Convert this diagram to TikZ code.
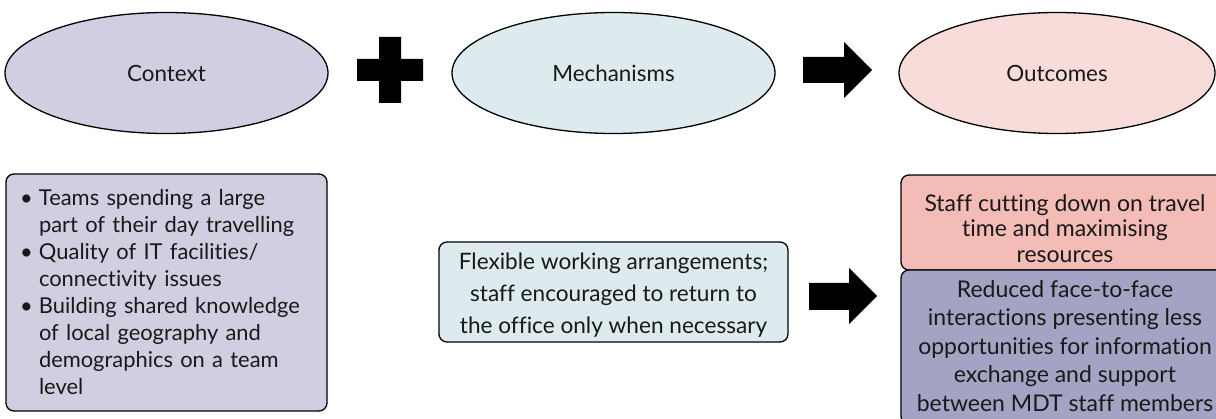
\documentclass[tikz,border=0pt]{standalone}
\usepackage{fontspec}
\setmainfont[Ligatures=NoCommon]{Lato}
\usetikzlibrary{shapes.geometric}
\definecolor{lav}{HTML}{D0CFE2}
\definecolor{mint}{HTML}{DDEBEE}
\definecolor{rose}{HTML}{F8DCDA}
\definecolor{salmon}{HTML}{F3BCB6}
\definecolor{slate}{HTML}{A3A3C3}
\newcommand{\bul}{\makebox[19pt][l]{\textbullet}}
\newcommand{\ind}{\hspace*{19pt}}
\begin{document}
\begin{tikzpicture}[x=1pt,y=-1pt,
  every node/.style={font=\fontsize{21.5}{27}\selectfont, text=black!90},
  oval/.style={ellipse, draw=black, line width=1.3pt, minimum width=323, minimum height=121, inner sep=0pt,
               font=\fontsize{22.4}{27}\selectfont},
  card/.style={rectangle, rounded corners=8pt, draw=black, line width=1.3pt, inner sep=0pt},
  label/.style={inner sep=0pt, align=center},
  blockshape/.style={fill=black}
]
\useasboundingbox (0,0) rectangle (1216,419);
\clip (0,0) rectangle (1216,419);

% ellipses
\node[oval, fill=lav]  (ctx)  at (166.5,73) {Context};
\node[oval, fill=mint] (mech) at (613.5,73) {Mechanisms};
\node[oval, fill=rose, minimum width=316] (out) at (1057,73) {Outcomes};

% plus sign
\fill[blockshape] (379,37) -- (401,37) -- (401,59) -- (423,59) -- (423,81) -- (401,81)
  -- (401,103) -- (379,103) -- (379,81) -- (357,81) -- (357,59) -- (379,59) -- cycle;

% top block arrow
\fill[blockshape] (803,57) -- (844,57) -- (844,42) -- (872,70) -- (844,98) -- (844,83) -- (803,83) -- cycle;

% context box
\node[card, fill=lav, minimum width=321, minimum height=237, text width=293, inner xsep=14pt, align=left,
      font=\fontsize{21.9}{27}\selectfont]
  (ctxbox) at (166.5,292.5) {%
  \bul Teams spending a large\\
  \ind part of their day travelling\\
  \bul Quality of IT facilities/\\
  \ind connectivity issues\\
  \bul Building shared knowledge\\
  \ind of local geography and\\
  \ind demographics on a team\\
  \ind level};

% mechanism box
\node[card, fill=mint, minimum width=349, minimum height=100] (mechbox) at (613.5,292) {};
\node[label, font=\fontsize{22.6}{32}\selectfont] (mechtext) at (613.5,295)
  {Flexible working arrangements;\\staff encouraged to return to\\the office only when necessary};

% bottom block arrow
\fill[blockshape] (809,283) -- (849,283) -- (849,268) -- (877,296) -- (849,324) -- (849,310) -- (809,310) -- cycle;

% outcome boxes
\node[card, fill=salmon, minimum width=328, minimum height=95] (outa) at (1065,222.5) {};
\node[label, font=\fontsize{23}{25.2}\selectfont] (outatext) at (1065,228.5)
  {Staff cutting down on travel\\time and maximising\\resources};
\node[card, fill=slate, minimum width=328, minimum height=154] (outb) at (1065,347) {};
\node[label, font=\fontsize{23}{28.6}\selectfont] (outbtext) at (1065,346)
  {Reduced face-to-face\\interactions presenting less\\opportunities for information\\exchange and support\\between MDT staff members};
\end{tikzpicture}
\end{document}
